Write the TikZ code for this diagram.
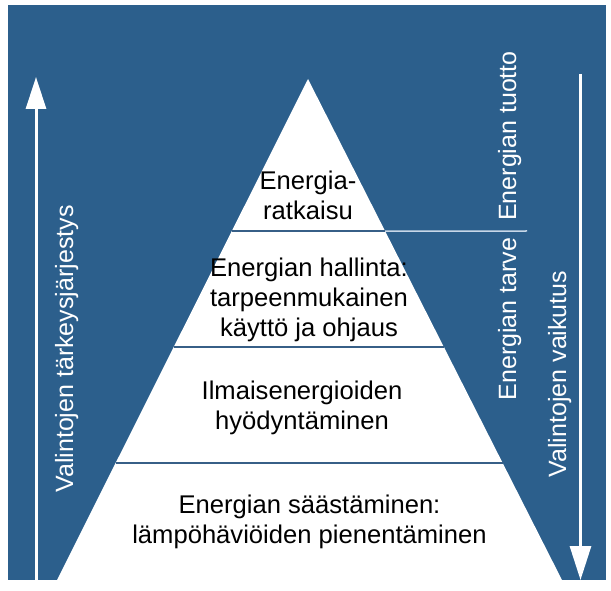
\documentclass[tikz,border=0pt]{standalone}
\usepackage{fontspec}
\setmainfont{Liberation Sans}
\usetikzlibrary{arrows.meta,calc}
\definecolor{bgblue}{RGB}{44,95,140}
\definecolor{lineblue}{RGB}{55,95,135}
\definecolor{paleblue}{RGB}{200,215,232}
\tikzstyle{level}=[align=center,font=\fontsize{25.6}{30}\selectfont,inner sep=0pt]
\tikzstyle{side}=[rotate=90,anchor=base,text=white,font=\fontsize{25}{30}\selectfont,inner sep=0pt]
\tikzstyle{flow}=[white,line width=3pt]

\begin{document}
\begin{tikzpicture}[x=1pt,y=-1pt]
    \useasboundingbox (0,0) rectangle (611,591);
    \fill[bgblue] (8,5) rectangle (606,580);
    \coordinate (top) at (308,79);
    \coordinate (bl) at (57,580);
    \coordinate (br) at (562,580);
    \fill[white] (top) -- (bl) -- (br) -- cycle;

    \foreach \t/\n in {0.3034/1,0.5349/2,0.7665/3}{
        \coordinate (l\n) at ($(top)!\t!(bl)$);
        \coordinate (r\n) at ($(top)!\t!(br)$);
        \draw[lineblue,line width=1.5pt] (l\n) -- (r\n);
    }
    \coordinate (e1) at (527,231);
    \draw[paleblue,line width=1.5pt] (r1) -- (e1);

    \coordinate (up0) at (36,580);
    \coordinate (up1) at (36,77);
    \coordinate (dn0) at (580.5,74);
    \coordinate (dn1) at (580.5,580);
    \draw[flow,-{Triangle[length=32pt,width=20pt]}] (up0) -- (up1);
    \draw[flow,-{Triangle[length=34pt,width=21pt]}] (dn0) -- (dn1);

    \node[level] (lvl1) at (308,195) {Energia-\\ratkaisu};
    \node[level] (lvl2) at (309,299.5) {Energian hallinta:\\tarpeenmukainen\\käyttö ja ohjaus};
    \node[level] (lvl3) at (302,408) {Ilmaisenergioiden\\hyödyntäminen};
    \node[level] (lvl4) at (309.5,522) {Energian säästäminen:\\lämpöhäviöiden pienentäminen};
    \node[side] (order) at (73,349) {Valintojen tärkeysjärjestys};
    \node[side] (supply) at (516,136) {Energian tuotto};
    \node[side] (demand) at (516,319) {Energian tarve};
    \node[side] (impact) at (566,374) {Valintojen vaikutus};
\end{tikzpicture}
\end{document}
